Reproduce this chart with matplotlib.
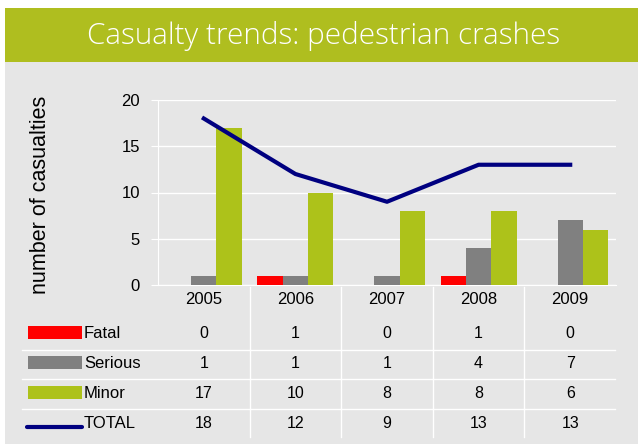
import matplotlib.pyplot as plt
import matplotlib.transforms as mtransforms
from matplotlib.patches import Rectangle
from matplotlib.lines import Line2D

# data
anos = ["2005", "2006", "2007", "2008", "2009"]
fatal = [0, 1, 0, 1, 0]
serious = [1, 1, 1, 4, 7]
minor = [17, 10, 8, 8, 6]
total = [18, 12, 9, 13, 13]

cor_fatal = "#FF0000"
cor_serious = "#808080"
cor_minor = "#ADC21A"
cor_total = "#000080"
cor_fundo = "#E6E6E6"
cor_header = "#AFBE1F"

plt.rcParams['font.family'] = ['Liberation Sans', 'DejaVu Sans']

W, H = 638, 444
fig = plt.figure(figsize=(W / 100, H / 100), dpi=100)
fig.patch.set_facecolor("white")

def fx(px):
    return px / W

def fy(py):
    return 1 - py / H

# painel cinza e cabeçalho
fig.patches.append(Rectangle((fx(5), 0), fx(W - 5), fy(62), transform=fig.transFigure,
                             facecolor=cor_fundo, edgecolor="none", zorder=-2))
fig.patches.append(Rectangle((fx(5), fy(62)), fx(W - 5), fy(8) - fy(62), transform=fig.transFigure,
                             facecolor=cor_header, edgecolor="none", zorder=-2))
fig.text(fx(324), fy(36), "Casualty trends: pedestrian crashes", color="white",
         fontsize=21.3, ha="center", va="center", family=["Open Sans", "DejaVu Sans"],
         fontweight="light")

# eixo principal
ax = fig.add_axes([fx(158), fy(285), fx(616) - fx(158), fy(100) - fy(285)])
ax.set_facecolor("none")
ax.set_zorder(2)

x = list(range(len(anos)))
w = 0.277
ax.bar([i - w for i in x], fatal, w, color=cor_fatal, zorder=3)
ax.bar(x, serious, w, color=cor_serious, zorder=3)
ax.bar([i + w for i in x], minor, w, color=cor_minor, zorder=3)
ax.plot(x, total, color=cor_total, linewidth=3, zorder=4)

ax.set_xlim(-0.5, len(anos) - 0.5)
ax.set_ylim(0, 20)
ax.set_yticks([0, 5, 10, 15, 20])
ax.yaxis.grid(True, color="white", linewidth=1, zorder=1)
ax.set_axisbelow(True)
for s in ["top", "right"]:
    ax.spines[s].set_visible(False)
ax.spines["left"].set_color("white")
ax.spines["bottom"].set_color("white")
ax.tick_params(axis="y", colors="white", labelcolor="black", labelsize=12, length=5, pad=8)
ax.set_xticks(x)
ax.set_xticklabels(anos)
ax.tick_params(axis="x", length=0, labelsize=12, pad=5)
fig.text(fx(41), fy(195), "number of casualties", rotation=90, fontsize=15.5,
         ha="center", va="center")

# tabela de dados
trans = mtransforms.blended_transform_factory(ax.transData, fig.transFigure)
linhas = [("Fatal", fatal), ("Serious", serious), ("Minor", minor), ("TOTAL", total)]
ys = [333, 363, 393, 423]

for (nome, vals), yy in zip(linhas, ys):
    for i, v in enumerate(vals):
        fig.text(i, fy(yy), str(v), transform=trans, ha="center", va="center", fontsize=11.5)
    fig.text(fx(84), fy(yy), nome, ha="left", va="center", fontsize=12)

# legenda
for cor, yy in zip([cor_fatal, cor_serious, cor_minor], ys[:3]):
    fig.patches.append(Rectangle((fx(28), fy(yy + 6)), fx(82) - fx(28), fy(yy - 7) - fy(yy + 6),
                                 transform=fig.transFigure, facecolor=cor, edgecolor="none"))
fig.lines.append(Line2D([fx(27), fx(82)], [fy(427), fy(427)], transform=fig.transFigure,
                        color=cor_total, linewidth=3, solid_capstyle="round"))

# linhas da tabela
for yy in [350, 379, 409]:
    fig.lines.append(Line2D([fx(22), fx(615)], [fy(yy), fy(yy)], transform=fig.transFigure,
                            color="white", linewidth=1))
for i in range(len(anos) - 1):
    fig.lines.append(Line2D([i + 0.5, i + 0.5], [fy(287), fy(437)], transform=trans,
                            color="white", linewidth=1))

plt.savefig("out.png", dpi=100)
plt.close()
